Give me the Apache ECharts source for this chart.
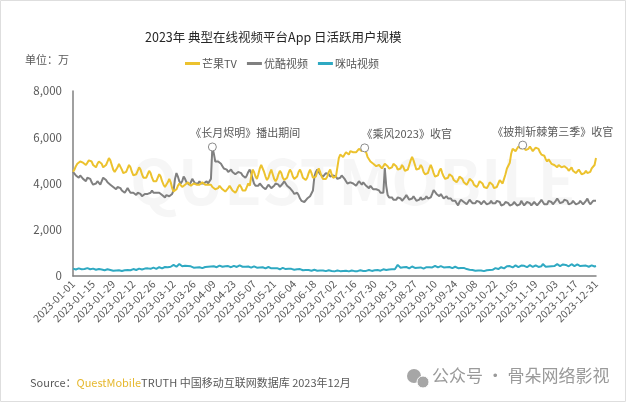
<!DOCTYPE html>
<html><head><meta charset="utf-8">
<script src="https://cdn.jsdelivr.net/npm/echarts@6/dist/echarts.min.js"></script>
<style>html,body{margin:0;padding:0;background:#fff}#c{width:626px;height:402px}</style>
</head><body><div id="c"></div>
<script>
var seriesNames = ['芒果TV', '优酷视频', '咪咕视频'];
var yTicks = [0, 2000, 4000, 6000, 8000];
// categories: every day of 2023
var dates = [];
(function () {
  var d = new Date(Date.UTC(2023, 0, 1));
  for (var i = 0; i < 365; i++) {
    dates.push(d.toISOString().slice(0, 10));
    d.setUTCDate(d.getUTCDate() + 1);
  }
})();
var mango = [
4510,4600,4750,4850,4900,4950,5000, 4900,4850,4800,4900,5000,5050,4950,
4800,4750,4700,4850,4950,5000,4850, 4700,4650,4800,4950,5100,5000,4800,
4600,4500,4550,4700,4850,4800,4600, 4450,4400,4500,4650,4800,4700,4500,
4350,4300,4400,4550,4700,4600,4400, 4250,4200,4250,4400,4550,4450,4250,
4100,4050,4100,4250,4400,4300,4100, 3950,3850,3900,4050,4200,4050,3800,
3650,3600,3750,3900,4000,3950,3850, 3900,3950,4000,4050,4000,3900,3950,
4000,4050,3950,3900,3950,4000,4050, 4000,3950,3900,3950,4000,3950,3850,
3800,3750,3700,3800,3900,3850,3750, 3700,3650,3700,3800,3900,3800,3700,
3650,3600,3700,3850,3950,3850,3700, 3650,3700,3850,4000,3900,4300,4600,
4500,4300,4200,4400,4650,4800,4750, 4500,4300,4150,4250,4450,4600,4400,
4200,4100,4200,4400,4550,4450,4250, 4150,4100,4250,4450,4600,4500,4300,
4200,4150,4300,4500,4600,4450,4250, 4200,4150,4250,4450,4600,4450,4250,
4200,4300,4500,4650,4500,4300,4200, 4250,4200,4300,4500,4600,4400,4250,
4200,4300,4700,5100,5250,5200,5150, 5250,5350,5300,5250,5400,5450,5350,
5300,5350,5400,5500,5450,5400,5500, 5540,5350,5150,5050,4950,4900,4850,
4800,4750,4700,4800,4750,4650,4700, 4850,4900,4750,4650,4600,4700,4850,
4900,4750,4600,4550,4650,4800,4700, 4550,4500,4600,4800,5000,5150,5000,
4800,4600,4550,4650,4800,4700,4500, 4400,4350,4450,4650,4800,4650,4450,
4300,4250,4350,4550,4650,4450,4300, 4200,4150,4250,4400,4450,4300,4150,
4100,4050,4150,4300,4350,4200,4050, 4000,3950,4050,4200,4250,4100,3950,
3900,3850,3950,4100,4150,4000,3850, 3800,3800,3900,4050,4100,3950,3800,
3800,3850,4000,4150,4100,4000,4200, 4400,4650,4600,4900,5300,5500,5450,
5400,5500,5600,5550,5500,5660,5550, 5450,5400,5500,5600,5550,5400,5450,
5550,5600,5500,5350,5250,5300,5200, 5050,4950,5050,4950,4850,4900,4800,
4750,4700,4800,4850,4700,4650,4750, 4800,4650,4550,4600,4700,4550,4500,
4450,4500,4600,4550,4400,4350,4450, 4550,4450,4400,4500,4650,4700,4800,
5100];
var youku = [
4500,4450,4350,4300,4250,4350,4300, 4200,4150,4100,4250,4300,4200,4050,
3950,3900,4000,4100,4050,3950,4100, 4250,4300,4150,4050,4000,3950,3900,
3850,3800,3750,3850,3900,3800,3700, 3650,3600,3700,3800,3700,3600,3550,
3600,3550,3500,3600,3650,3550,3450, 3500,3550,3600,3550,3500,3600,3700,
3600,3550,3600,3650,3600,3550,3500, 3450,3400,3500,3550,3450,3400,3550,
3700,4200,4450,4300,4100,4000,4100, 4300,4200,4050,4000,3950,4050,4200,
4100,4000,3950,4000,4100,4000,3950, 4000,4050,4100,4000,4050,4200,5580,
5300,4950,5000,4950,4900,4850,4750, 4650,4700,4600,4500,4550,4600,4500,
4450,4400,4350,4500,4550,4450,4350, 4300,4250,4350,4500,4600,4450,4200,
4000,3900,3850,3900,4000,3950,3850, 3800,3750,3850,3950,3900,3800,3850,
3900,4000,4050,3950,3850,3900,4000, 4100,4000,3900,3850,3800,3750,3650,
3550,3500,3600,3500,3350,3250,3300, 3200,3250,3350,3300,3450,3500,3700,
4300,4500,4600,4500,4400,4350,4300, 4350,4450,4500,4400,4300,4250,4350,
4400,4300,4200,4150,4250,4350,4300, 4200,4100,4000,3950,4050,4100,4000,
3950,3900,4000,4100,4050,3950,4050, 4000,3900,3850,3800,3900,3850,3750,
3700,3750,3800,3700,3600,3550,3600, 4670,3900,3500,3400,3350,3400,3300,
3250,3300,3400,3450,3350,3250,3300, 3400,3500,3400,3300,3250,3350,3450,
3350,3250,3200,3300,3400,3300,3250, 3350,3450,3350,3300,3400,3550,3720,
3650,3550,3500,3450,3550,3450,3350, 3400,3450,3350,3300,3350,3250,3200,
3250,3150,3050,3200,3300,3250,3200, 3150,3100,3200,3300,3250,3150,3100,
3150,3250,3300,3200,3100,3150,3250, 3200,3100,3050,3150,3250,3150,3100,
3150,3250,3300,3200,3050,3000,3100, 3200,3250,3150,3050,3000,3100,3200,
3150,3050,3000,3100,3250,3150,3050, 3100,3200,3250,3150,3050,3100,3200,
3150,3050,3100,3200,3300,3200,3100, 3050,3100,3250,3300,3200,3100,3150,
3250,3350,3250,3150,3100,3200,3300, 3350,3250,3100,3050,3150,3250,3200,
3100,3050,3150,3250,3200,3100,3150, 3250,3350,3200,3100,3150,3250,3300,
3250];
var migu = [
320,300,280,300,330,310,290, 280,300,320,340,310,290,300,
320,290,270,280,300,310,280, 260,250,270,290,280,260,240,
230,220,240,260,250,230,220, 230,250,270,260,240,250,280,
300,270,260,290,320,300,280, 290,320,350,330,300,310,340,
360,330,310,340,380,350,330, 350,390,420,380,360,400,450,
480,430,400,450,520,470,420, 410,440,470,430,400,420,380,
360,340,370,400,380,350,340, 360,390,420,400,380,410,440,
420,390,380,410,450,420,400, 390,420,460,430,400,380,410,
440,410,390,420,460,430,400, 380,400,430,410,380,360,390,
420,390,360,340,370,400,380, 350,330,360,390,360,330,310,
340,370,340,310,290,320,350, 330,300,280,310,340,310,290,
270,260,290,320,300,270,250, 240,260,280,260,240,230,250,
270,250,230,220,240,260,240, 220,210,230,250,240,220,210,
200,220,240,230,210,200,220, 240,230,210,200,220,240,230,
210,200,210,230,250,240,220, 210,220,240,260,240,220,230,
250,270,260,240,230,260,290, 280,260,250,280,310,290,270,
290,330,480,420,360,330,380, 430,390,350,330,370,410,380,
350,330,360,400,370,340,320, 340,380,410,380,350,370,410,
440,400,370,390,430,400,370, 350,380,420,390,360,340,370,
400,370,340,320,350,380,350, 320,300,280,270,290,260,240,
230,220,240,260,240,220,210, 220,250,280,260,240,270,310,
340,320,300,330,380,350,330, 360,420,480,430,390,370,410,
460,420,380,400,450,500,440, 400,380,420,470,430,390,410,
460,420,390,370,420,520,440, 400,380,410,450,420,390,430,
480,510,460,430,450,500,540, 480,440,420,460,510,470,430,
450,500,470,430,410,440,480, 450,420,400,430,460,440,410,
430];
var notes = [
  { text: '《长月烬明》播出期间', series: 1, idx: 97, offset: [33, -14] },
  { text: '《乘风2023》收官', series: 0, idx: 203, offset: [42, -14] },
  { text: '《披荆斩棘第三季》收官', series: 0, idx: 313, offset: [30, -13] }
];
var colors = ['#ecc22e', '#808080', '#2fa9c2'];
var all = [mango, youku, migu];
var FONT = '"Microsoft YaHei","Noto Sans CJK SC",sans-serif';

var chart = echarts.init(document.getElementById('c'), null, { renderer: 'canvas' });
var series = seriesNames.map(function (n, si) {
  var mp = notes.filter(function (t) { return t.series === si; }).map(function (t) {
    return {
      coord: [dates[t.idx], all[si][t.idx]],
      symbol: 'circle', symbolSize: 8,
      itemStyle: { color: '#fff', borderColor: '#8c8c8c', borderWidth: 1 },
      label: { show: true, formatter: t.text, offset: t.offset, color: '#595959', fontSize: 11, fontFamily: FONT }
    };
  });
  return {
    name: n, type: 'line', data: all[si], showSymbol: false, symbol: 'none',
    lineStyle: { color: colors[si], width: 2 }, itemStyle: { color: colors[si] },
    z: si === 0 ? 4 : (si === 1 ? 3 : 2),
    markPoint: mp.length ? { data: mp, silent: true, animation: false } : undefined
  };
});

chart.setOption({
  animation: false,
  backgroundColor: '#fff',
  color: colors,
  title: {
    text: '2023年 典型在线视频平台App 日活跃用户规模',
    left: 140, top: 26,
    textStyle: { fontSize: 12.5, fontWeight: 'normal', color: '#262626', fontFamily: FONT }
  },
  legend: {
    data: seriesNames, left: 180, top: 53, itemWidth: 15, itemHeight: 3, itemGap: 10,
    icon: 'rect',
    textStyle: { fontSize: 11, color: '#595959', fontFamily: FONT, padding: [0, 0, 0, -3] }
  },
  grid: { left: 73, right: 30, top: 91, bottom: 126, containLabel: false },
  xAxis: {
    type: 'category', data: dates, boundaryGap: false,
    axisLine: { lineStyle: { color: '#808080', width: 1.5 } },
    axisTick: { show: false },
    axisLabel: { interval: 13, rotate: 45, fontSize: 10.5, color: '#595959', margin: 6, fontFamily: FONT }
  },
  yAxis: {
    type: 'value', min: yTicks[0], max: yTicks[yTicks.length - 1], interval: 2000,
    axisLine: { show: true, lineStyle: { color: '#808080', width: 1.5 } },
    axisTick: { show: false },
    splitLine: { show: false },
    axisLabel: {
      fontSize: 11.5, color: '#595959', margin: 11, fontFamily: FONT,
      formatter: function (v) { return v.toLocaleString('en-US'); }
    }
  },
  graphic: [
    { type: 'rect', shape: { x: 0.5, y: 0.5, width: 625, height: 401 }, style: { fill: 'none', stroke: '#dedede', lineWidth: 1 }, z: 0 },
    { type: 'text', left: 25, top: 54, style: { text: '单位：万', fontSize: 11, fill: '#595959', fontFamily: FONT } },
    { type: 'text', left: 130, top: 150, z: -1, style: { text: 'QUESTMOBILE', fontSize: 62, fontWeight: 'bold', fill: 'rgba(0,0,0,0.035)', fontFamily: FONT } },
    { type: 'text', left: 30, top: 377, style: {
      text: '{a|Source：}{b|QuestMobile}{a|TRUTH 中国移动互联网数据库 2023年12月}',
      rich: {
        a: { fontSize: 11, fill: '#595959', fontFamily: FONT },
        b: { fontSize: 11, fill: '#e6b82e', fontFamily: FONT }
      } } },
    { type: 'circle', shape: { cx: 414, cy: 376, r: 7 }, style: { fill: '#a6a6a6' } },
    { type: 'circle', shape: { cx: 423, cy: 382, r: 6 }, style: { fill: '#a6a6a6', stroke: '#fff', lineWidth: 1 } },
    { type: 'text', left: 432, top: 367, style: { text: '公众号 · 骨朵网络影视', fontSize: 17, fill: '#9a9a9a', fontFamily: FONT } }
  ],
  series: series
});
</script></body></html>
